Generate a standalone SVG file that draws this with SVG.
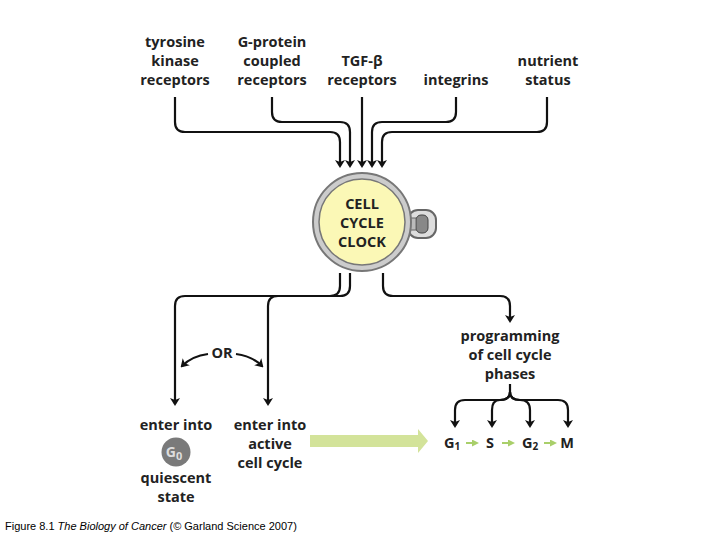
<svg xmlns="http://www.w3.org/2000/svg" width="720" height="540" viewBox="0 0 720 540">
<style>
.t{font-family:"Open Sans","Liberation Sans",sans-serif;font-weight:bold;font-size:14.5px;text-anchor:middle;fill:#222}
.l{fill:none;stroke:#111;stroke-width:2.2}
.g{fill:none;stroke:#a9cf6a;stroke-width:2}
</style>
<defs>
<marker id="a" markerWidth="8" markerHeight="10" refX="6" refY="5" orient="auto" markerUnits="userSpaceOnUse"><path d="M0,0 L8,5 L0,10 L2,5 z" fill="#111"/></marker>
<marker id="ga" markerWidth="7" markerHeight="7" refX="5" refY="3.5" orient="auto" markerUnits="userSpaceOnUse"><path d="M0,0 L7,3.5 L0,7 z" fill="#a9cf6a"/></marker>
</defs>
<rect width="720" height="540" fill="#fff"/>
<g id="inputs">
<text class="t" x="175" y="47">tyrosine<tspan x="175" dy="19">kinase</tspan><tspan x="175" dy="19">receptors</tspan></text>
<text class="t" x="272" y="47">G-protein<tspan x="272" dy="19">coupled</tspan><tspan x="272" dy="19">receptors</tspan></text>
<text class="t" x="362" y="66">TGF-β<tspan x="362" dy="19">receptors</tspan></text>
<text class="t" x="456" y="85">integrins</text>
<text class="t" x="548" y="66">nutrient<tspan x="548" dy="19">status</tspan></text>
</g>
<g id="clock">
<rect x="408" y="210" width="28" height="28" rx="10" fill="#ddd" stroke="#666" stroke-width="2"/>
<rect x="416" y="215" width="12" height="18" rx="5" fill="#888" stroke="#444"/>
<rect x="404" y="218" width="12" height="12" fill="#bbb" stroke="#666"/>
<circle cx="362" cy="222" r="49" fill="#ccc" stroke="#777" stroke-width="2"/>
<circle cx="362" cy="222" r="43" fill="#fbf8b6" stroke="#777" stroke-width="1.5"/>
<text class="t" x="362" y="209" font-size="15">CELL<tspan x="362" dy="19">CYCLE</tspan><tspan x="362" dy="19">CLOCK</tspan></text>
</g>
<g id="connectors">
<path class="l" d="M175,97 V122 Q175,132 185,132 H330 Q340,132 340,142 V166" marker-end="url(#a)"/>
<path class="l" d="M272,97 V112 Q272,122 282,122 H340 Q350,122 350,132 V166" marker-end="url(#a)"/>
<path class="l" d="M362,97 V166" marker-end="url(#a)"/>
<path class="l" d="M456,97 V112 Q456,122 446,122 H382 Q372,122 372,132 V166" marker-end="url(#a)"/>
<path class="l" d="M547,97 V122 Q547,132 537,132 H392 Q382,132 382,142 V166" marker-end="url(#a)"/>
<path class="l" d="M340,273 V286 Q340,296 330,296 H185 Q175,296 175,306 V404" marker-end="url(#a)"/>
<path class="l" d="M350,273 V286 Q350,296 340,296 H278 Q268,296 268,306 V404" marker-end="url(#a)"/>
<path class="l" d="M383,273 V286 Q383,296 393,296 H500 Q510,296 510,306 V321" marker-end="url(#a)"/>
<path class="l" d="M208,354 Q192,356 182,366" marker-end="url(#a)"/>
<path class="l" d="M236,354 Q252,356 262,366" marker-end="url(#a)"/>
<path class="l" d="M510,384 V392 Q510,400 500,400 H465 Q455,400 455,410 V426" marker-end="url(#a)"/>
<path class="l" d="M510,392 Q510,400 500,400 Q492,400 492,410 V426" marker-end="url(#a)"/>
<path class="l" d="M510,392 Q510,400 520,400 Q530,400 530,410 V426" marker-end="url(#a)"/>
<path class="l" d="M510,392 Q510,400 520,400 H558 Q568,400 568,410 V426" marker-end="url(#a)"/>
<path d="M310,435 H418 V429 L428,441 L418,453 V447 H310 z" fill="#d3e39a"/>
<path class="g" d="M466,443 H477" marker-end="url(#ga)"/>
<path class="g" d="M502,443 H513" marker-end="url(#ga)"/>
<path class="g" d="M544,443 H555" marker-end="url(#ga)"/>
</g>
<g id="or"><text class="t" x="222" y="358">OR</text></g>
<g id="g0">
<text class="t" x="176" y="430">enter into</text>
<circle cx="176" cy="452" r="14.5" fill="#7a7a7a"/>
<text x="174" y="457" font-family="Open Sans,Liberation Sans,sans-serif" font-weight="bold" font-size="14" fill="#ddd" text-anchor="middle">G<tspan font-size="11" dy="3">0</tspan></text>
<text class="t" x="176" y="483">quiescent<tspan x="176" dy="19">state</tspan></text>
</g>
<g id="active"><text class="t" x="270" y="430">enter into<tspan x="270" dy="19">active</tspan><tspan x="270" dy="19">cell cycle</tspan></text></g>
<g id="programming"><text class="t" x="510" y="341">programming<tspan x="510" dy="19">of cell cycle</tspan><tspan x="510" dy="19">phases</tspan></text></g>
<g id="phases">
<text class="t" x="452" y="448">G<tspan font-size="10" dy="2">1</tspan></text>
<text class="t" x="490" y="448">S</text>
<text class="t" x="530" y="448">G<tspan font-size="10" dy="2">2</tspan></text>
<text class="t" x="567" y="448">M</text>
</g>
<text x="5" y="530" font-family="Liberation Sans,Arial,sans-serif" font-size="11" fill="#000">Figure 8.1  <tspan font-style="italic">The Biology of Cancer</tspan> (© Garland Science 2007)</text>
</svg>
